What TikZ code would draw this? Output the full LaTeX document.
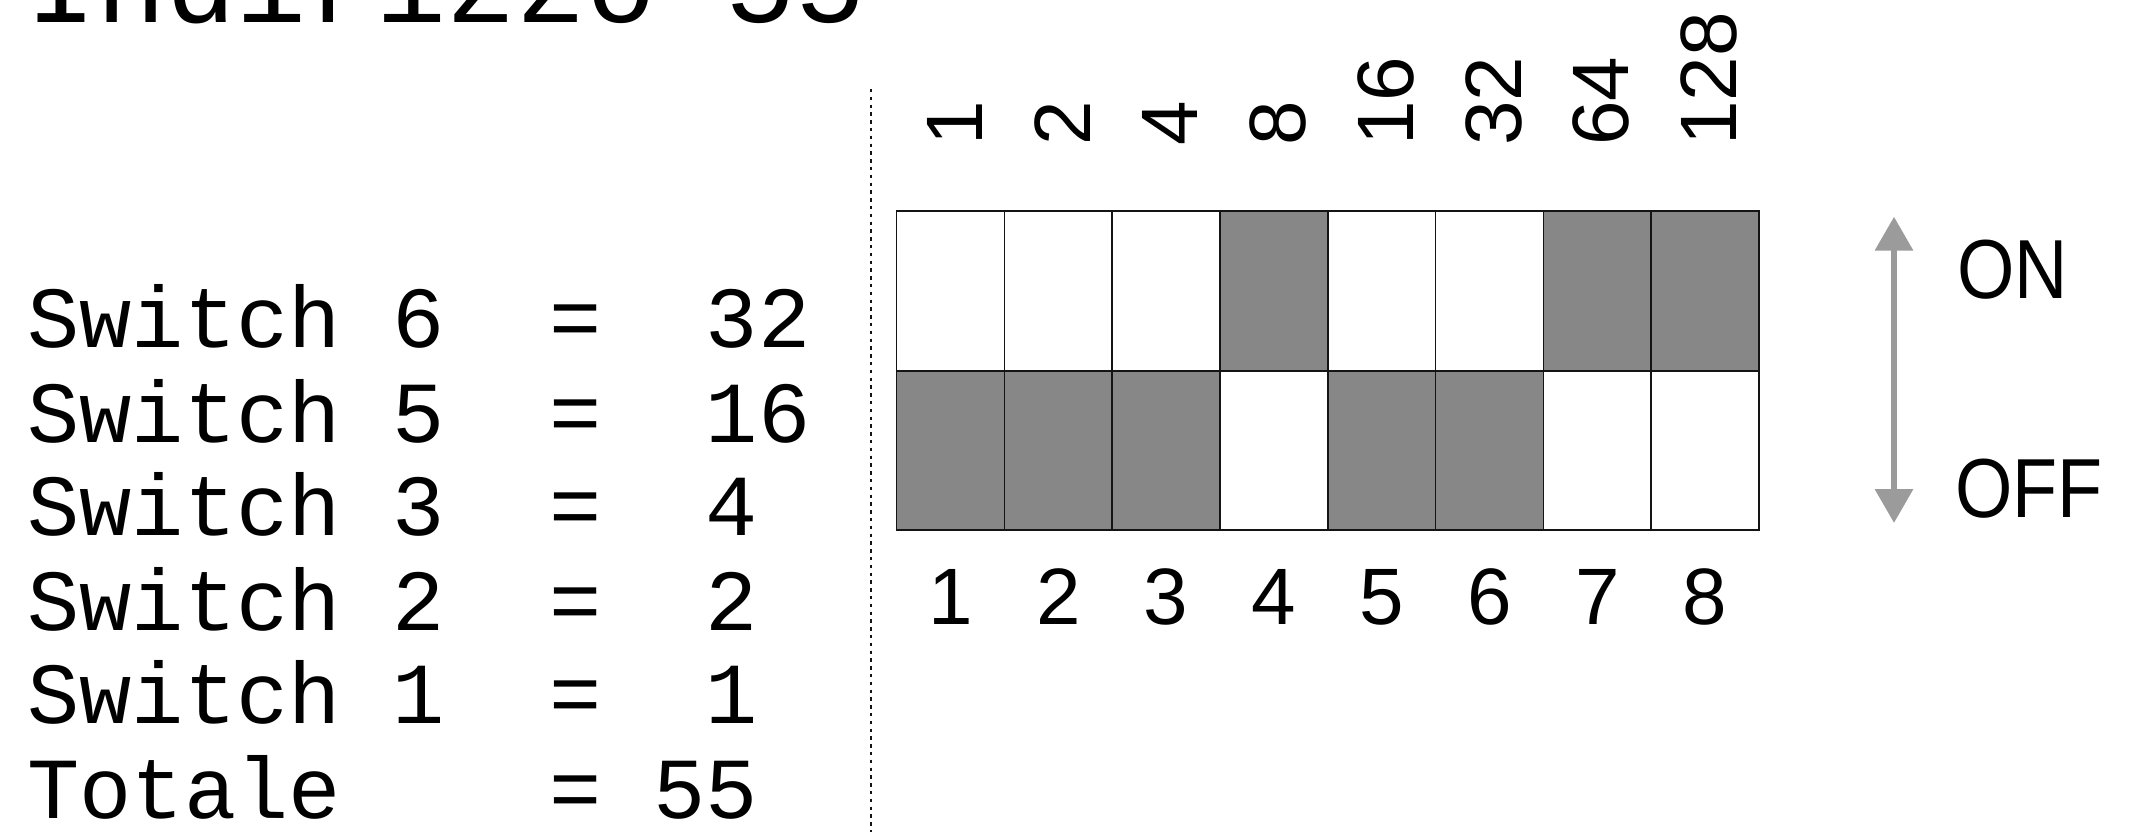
\documentclass[tikz,border=0pt]{standalone}
\usepackage{fontspec}
\setmainfont{Liberation Sans}
\newfontfamily\monofont{Liberation Mono}
\newfontfamily\narrowfont[FakeStretch=0.88]{Liberation Sans}
\usepackage{tikz}
\usetikzlibrary{arrows.meta}
\definecolor{ink}{HTML}{141414}
\definecolor{lever}{HTML}{878787}
\definecolor{guide}{HTML}{9B9B9B}
\tikzset{
  dipcell/.style={draw=ink, line width=0.8pt, fill=white, inner sep=0pt,
                  minimum width=53.9pt, minimum height=79.75pt},
  bitval/.style={font=\fontsize{40}{40}\selectfont, rotate=90, anchor=west, inner sep=0pt},
  pinnum/.style={font=\fontsize{40}{40}\selectfont, inner sep=0pt},
  swline/.style={font=\monofont\fontsize{43.5}{47}\selectfont, anchor=base west, inner sep=0pt},
  headline/.style={swline, font=\monofont\fontsize{58.3}{60}\selectfont},
  onoff/.style={font=\narrowfont\fontsize{41.9}{42}\selectfont, anchor=base west, inner sep=0pt},
  divider/.style={draw=ink, line width=1pt, dash pattern=on 1.7pt off 2.2pt},
  updown/.style={{Triangle[length=17pt,width=18.5pt]}-{Triangle[length=17pt,width=18.5pt]},
                 line width=3.3pt, draw=guide},
}

\begin{document}
\begin{tikzpicture}[x=0.5pt, y=0.5pt]
\useasboundingbox (0,0) rectangle (2153,832);

% title, cut by the top edge
\node[headline] (head) at (26,809.3) {Indirizzo 55};

% the sum of the switches that are set
\node[swline] (sw6) at (27,484.6) {Switch 6\ \ =\ \ 32};
\node[swline] (sw5) at (27,390.0) {Switch 5\ \ =\ \ 16};
\node[swline] (sw3) at (27,296.5) {Switch 3\ \ =\ \ 4};
\node[swline] (sw2) at (27,202.0) {Switch 2\ \ =\ \ 2};
\node[swline] (sw1) at (27,108.4) {Switch 1\ \ =\ \ 1};
\node[swline] (tot) at (27,13.7)  {Totale\ \ \ \ =\ 55};

\coordinate (divtop) at (870.7,743);
\coordinate (divbot) at (870.7,0);
\draw[divider] (divtop) -- (divbot);

% dip switch: grey is the lever
\foreach \i/\v/\tf/\bf in {1/1/white/lever, 2/2/white/lever, 3/4/white/lever,
    4/8/lever/white, 5/16/white/lever, 6/32/white/lever,
    7/64/lever/white, 8/128/lever/white} {
  \pgfmathsetmacro{\cx}{896.6+(\i-0.5)*107.8}
  \node[dipcell, fill=\tf] (t\i) at (\cx,541.2) {};
  \node[dipcell, fill=\bf] (d\i) at (\cx,381.5) {};
  \node[bitval] (b\i) at (\cx+4,686) {\v};
  \node[pinnum] (p\i) at (\cx,235) {\i};
}

\coordinate (onend) at (1894,615.3);
\coordinate (offend) at (1894,309);
\draw[updown] (onend) -- (offend);
\node[onoff] (on)  at (1957,534) {ON};
\node[onoff] (off) at (1955,315) {OFF};

\end{tikzpicture}
\end{document}
